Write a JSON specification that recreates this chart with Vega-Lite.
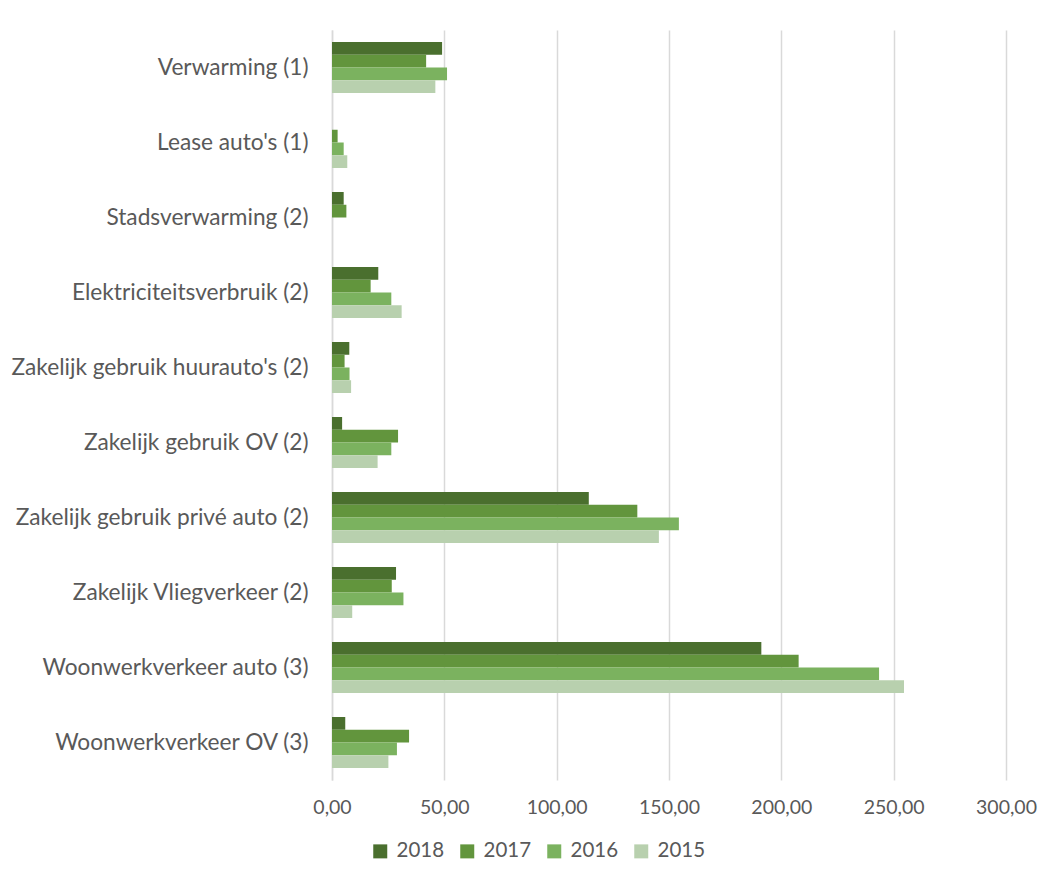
{
  "$schema": "https://vega.github.io/schema/vega-lite/v6.json",
  "autosize": "none",
  "width": 674,
  "height": 750,
  "padding": {"left": 332, "top": 30, "right": 50, "bottom": 107},
  "background": "white",
  "data": {
    "values": [
      {"cat": "Verwarming (1)", "year": "2018", "value": 49.0},
      {"cat": "Verwarming (1)", "year": "2017", "value": 41.9},
      {"cat": "Verwarming (1)", "year": "2016", "value": 51.2},
      {"cat": "Verwarming (1)", "year": "2015", "value": 46.0},
      {"cat": "Lease auto's (1)", "year": "2017", "value": 2.5},
      {"cat": "Lease auto's (1)", "year": "2016", "value": 5.2},
      {"cat": "Lease auto's (1)", "year": "2015", "value": 6.8},
      {"cat": "Stadsverwarming (2)", "year": "2018", "value": 5.2},
      {"cat": "Stadsverwarming (2)", "year": "2017", "value": 6.4},
      {"cat": "Elektriciteitsverbruik (2)", "year": "2018", "value": 20.6},
      {"cat": "Elektriciteitsverbruik (2)", "year": "2017", "value": 17.2},
      {"cat": "Elektriciteitsverbruik (2)", "year": "2016", "value": 26.4},
      {"cat": "Elektriciteitsverbruik (2)", "year": "2015", "value": 31.0},
      {"cat": "Zakelijk gebruik huurauto's (2)", "year": "2018", "value": 7.7},
      {"cat": "Zakelijk gebruik huurauto's (2)", "year": "2017", "value": 5.6},
      {"cat": "Zakelijk gebruik huurauto's (2)", "year": "2016", "value": 7.8},
      {"cat": "Zakelijk gebruik huurauto's (2)", "year": "2015", "value": 8.5},
      {"cat": "Zakelijk gebruik OV (2)", "year": "2018", "value": 4.5},
      {"cat": "Zakelijk gebruik OV (2)", "year": "2017", "value": 29.4},
      {"cat": "Zakelijk gebruik OV (2)", "year": "2016", "value": 26.4},
      {"cat": "Zakelijk gebruik OV (2)", "year": "2015", "value": 20.3},
      {"cat": "Zakelijk gebruik privé auto (2)", "year": "2018", "value": 114.3},
      {"cat": "Zakelijk gebruik privé auto (2)", "year": "2017", "value": 135.9},
      {"cat": "Zakelijk gebruik privé auto (2)", "year": "2016", "value": 154.4},
      {"cat": "Zakelijk gebruik privé auto (2)", "year": "2015", "value": 145.5},
      {"cat": "Zakelijk Vliegverkeer (2)", "year": "2018", "value": 28.5},
      {"cat": "Zakelijk Vliegverkeer (2)", "year": "2017", "value": 26.6},
      {"cat": "Zakelijk Vliegverkeer (2)", "year": "2016", "value": 31.8},
      {"cat": "Zakelijk Vliegverkeer (2)", "year": "2015", "value": 9.0},
      {"cat": "Woonwerkverkeer auto (3)", "year": "2018", "value": 191.1},
      {"cat": "Woonwerkverkeer auto (3)", "year": "2017", "value": 207.7},
      {"cat": "Woonwerkverkeer auto (3)", "year": "2016", "value": 243.5},
      {"cat": "Woonwerkverkeer auto (3)", "year": "2015", "value": 254.6},
      {"cat": "Woonwerkverkeer OV (3)", "year": "2018", "value": 5.9},
      {"cat": "Woonwerkverkeer OV (3)", "year": "2017", "value": 34.3},
      {"cat": "Woonwerkverkeer OV (3)", "year": "2016", "value": 28.9},
      {"cat": "Woonwerkverkeer OV (3)", "year": "2015", "value": 25.1}
    ]
  },
  "mark": {"type": "bar"},
  "encoding": {
    "y": {
      "field": "cat",
      "type": "nominal",
      "sort": null,
      "scale": {"paddingInner": 0.32, "paddingOuter": 0.16},
      "axis": {
        "title": null,
        "ticks": false,
        "domain": true,
        "domainColor": "#d9d9d9",
        "domainWidth": 1.5,
        "labelFontSize": 22.7,
        "labelColor": "#595959",
        "labelPadding": 24,
        "labelLimit": 400
      }
    },
    "yOffset": {
      "field": "year",
      "type": "nominal",
      "sort": ["2018", "2017", "2016", "2015"],
      "scale": {"domain": ["2018", "2017", "2016", "2015"], "paddingInner": 0, "paddingOuter": 0}
    },
    "x": {
      "field": "value",
      "type": "quantitative",
      "scale": {"domain": [0, 300], "nice": false},
      "axis": {
        "title": null,
        "values": [0, 50, 100, 150, 200, 250, 300],
        "labelExpr": "replace(format(datum.value, '.2f'), '.', ',')",
        "labelFlush": false,
        "grid": true,
        "gridColor": "#d9d9d9",
        "gridWidth": 1.5,
        "domain": false,
        "ticks": false,
        "labelFontSize": 19.5,
        "labelColor": "#595959",
        "labelPadding": 18
      }
    },
    "color": {
      "field": "year",
      "type": "nominal",
      "scale": {
        "domain": ["2018", "2017", "2016", "2015"],
        "range": ["#4a6f2e", "#62953d", "#7bb25f", "#b8d0ae"]
      },
      "legend": {
        "title": null,
        "orient": "none",
        "direction": "horizontal",
        "legendX": 38,
        "legendY": 811,
        "padding": 0,
        "symbolType": "square",
        "symbolSize": 196,
        "symbolStrokeWidth": 0,
        "symbolOpacity": 1,
        "labelFontSize": 20.5,
        "labelColor": "#595959",
        "labelOffset": 6,
        "columnPadding": 12
      }
    }
  },
  "config": {
    "font": "Lato",
    "view": {"stroke": null},
    "axis": {"labelFont": "Lato"},
    "legend": {"labelFont": "Lato"}
  }
}
